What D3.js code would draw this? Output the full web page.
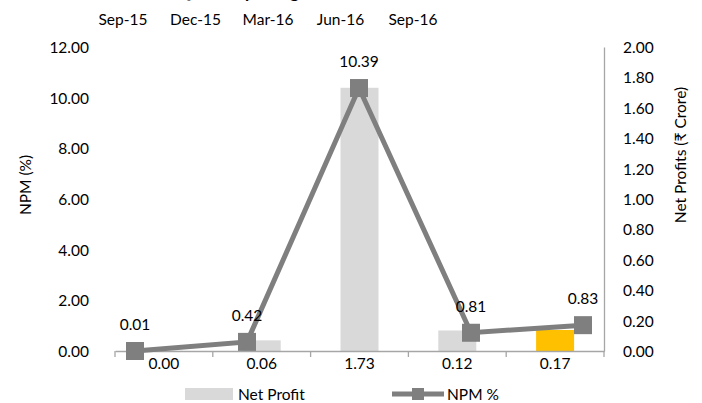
<!DOCTYPE html>
<html>
<head>
<meta charset="utf-8">
<script src="https://cdn.jsdelivr.net/npm/d3@7"></script>
<style>
  body { margin: 0; background: #fff; }
  svg { display: block; font-family: Lato, "Open Sans", sans-serif; }
</style>
</head>
<body>
<svg></svg>
<script>
// quarterly net profit / NPM combo chart

const quarters = ["Sep-15", "Dec-15", "Mar-16", "Jun-16", "Sep-16"];
// bars (read on left axis), labels shown above line markers
const npmValues = [0.01, 0.42, 10.39, 0.81, 0.83];
// line (read on right axis), labels shown under the x axis
const profitValues = [0.00, 0.06, 1.73, 0.12, 0.17];
const leftTicks = [0, 2, 4, 6, 8, 10, 12];
const rightTicks = [0, 0.2, 0.4, 0.6, 0.8, 1.0, 1.2, 1.4, 1.6, 1.8, 2.0];

const width = 702, height = 403;
const plotTop = 47, plotBottom = 351, plotLeft = 115, plotRight = 604;
const fs = 15.5;

const svg = d3.select("svg")
    .attr("width", width)
    .attr("height", height);

const x = d3.scaleBand().domain(quarters).range([plotLeft, plotRight]).padding(0);
const xLine = d3.scalePoint().domain(quarters).range([135, 583]);
const xTop = d3.scalePoint().domain(quarters).range([123, 413]);
const yLeft = d3.scaleLinear().domain([0, 12]).range([plotBottom, plotTop]);
const yRight = d3.scaleLinear().domain([0, 2]).range([plotBottom, plotTop]);

const grey = "#7f7f7f";
const fmt = d3.format(".2f");

// title, mostly cut off at the top edge
svg.append("text")
    .attr("x", 176).attr("y", -2)
    .attr("font-size", 18).attr("font-weight", "bold")
    .text("Quarterly Margin");

// top category labels
svg.append("g")
  .selectAll("text")
  .data(quarters)
  .join("text")
    .attr("x", d => xTop(d))
    .attr("y", 25)
    .attr("text-anchor", "middle")
    .attr("font-size", fs)
    .text(d => d);

// bars
const barW = 38;
svg.append("g")
  .selectAll("rect")
  .data(quarters)
  .join("rect")
    .attr("x", d => x(d) + x.bandwidth() / 2 - barW / 2)
    .attr("y", (d, i) => yLeft(npmValues[i]))
    .attr("width", barW)
    .attr("height", (d, i) => yLeft(0) - yLeft(npmValues[i]))
    .attr("fill", (d, i) => i === quarters.length - 1 ? "#ffc000" : "#d9d9d9");

// x axis
const xAxis = svg.append("g")
    .attr("transform", `translate(0,${plotBottom})`)
    .call(d3.axisBottom(x).tickSize(0).tickFormat(""));
xAxis.select(".domain").attr("stroke", "#a6a6a6").attr("stroke-width", 1.3);
xAxis.append("g")
  .selectAll("line")
  .data(d3.range(quarters.length + 1))
  .join("line")
    .attr("x1", i => plotLeft + i * x.bandwidth())
    .attr("x2", i => plotLeft + i * x.bandwidth())
    .attr("y1", 0).attr("y2", 6)
    .attr("stroke", "#a6a6a6").attr("stroke-width", 1.3);

// left axis (labels only)
const leftAxis = svg.append("g")
    .attr("transform", `translate(89,0)`)
    .call(d3.axisLeft(yLeft).tickValues(leftTicks).tickSize(0).tickFormat(fmt));
leftAxis.select(".domain").remove();
leftAxis.selectAll("text")
    .attr("font-size", fs).attr("font-family", "Lato").attr("fill", "#000")
    .attr("x", 0).attr("dy", "0.35em");

// right axis
const rightAxis = svg.append("g")
    .attr("transform", `translate(${plotRight},0)`)
    .call(d3.axisRight(yRight).tickValues(rightTicks).tickSize(0).tickFormat(fmt));
rightAxis.select(".domain").attr("stroke", "#a6a6a6").attr("stroke-width", 1.3);
rightAxis.selectAll("text")
    .attr("font-size", fs).attr("font-family", "Lato").attr("fill", "#000")
    .attr("x", 19).attr("dy", "0.35em");

// axis titles
svg.append("text")
    .attr("transform", "translate(31,185) rotate(-90)")
    .attr("text-anchor", "middle")
    .attr("font-size", fs)
    .text("NPM (%)");
svg.append("text")
    .attr("transform", "translate(686,155) rotate(-90)")
    .attr("text-anchor", "middle")
    .attr("font-size", fs)
    .text("Net Profits (₹ Crore)");

// line
const line = d3.line()
    .x((d, i) => xLine(quarters[i]))
    .y(d => yRight(d));
svg.append("path")
    .datum(profitValues)
    .attr("fill", "none")
    .attr("stroke", grey)
    .attr("stroke-width", 5)
    .attr("d", line);

const mk = 18;
svg.append("g")
  .selectAll("rect")
  .data(profitValues)
  .join("rect")
    .attr("x", (d, i) => xLine(quarters[i]) - mk / 2)
    .attr("y", d => yRight(d) - mk / 2)
    .attr("width", mk).attr("height", mk)
    .attr("fill", grey);

// labels above markers (NPM values)
svg.append("g")
  .selectAll("text")
  .data(npmValues)
  .join("text")
    .attr("x", (d, i) => xLine(quarters[i]))
    .attr("y", (d, i) => yRight(profitValues[i]) - 21)
    .attr("text-anchor", "middle")
    .attr("font-size", fs)
    .text(d => fmt(d));

// labels under the axis (net profit values)
svg.append("g")
  .selectAll("text")
  .data(profitValues)
  .join("text")
    .attr("x", (d, i) => x(quarters[i]) + x.bandwidth() / 2)
    .attr("y", 369)
    .attr("text-anchor", "middle")
    .attr("font-size", fs)
    .text(d => fmt(d));

// legend
const legend = svg.append("g").attr("font-size", fs);
legend.append("rect")
    .attr("x", 185).attr("y", 388).attr("width", 48).attr("height", 12)
    .attr("fill", "#d9d9d9");
legend.append("text").attr("x", 238).attr("y", 400).text("Net Profit");
legend.append("line")
    .attr("x1", 392).attr("x2", 444).attr("y1", 394).attr("y2", 394)
    .attr("stroke", grey).attr("stroke-width", 5);
legend.append("rect")
    .attr("x", 412).attr("y", 388).attr("width", 12).attr("height", 12)
    .attr("fill", grey);
legend.append("text").attr("x", 447).attr("y", 400).text("NPM %");
</script>
</body>
</html>
